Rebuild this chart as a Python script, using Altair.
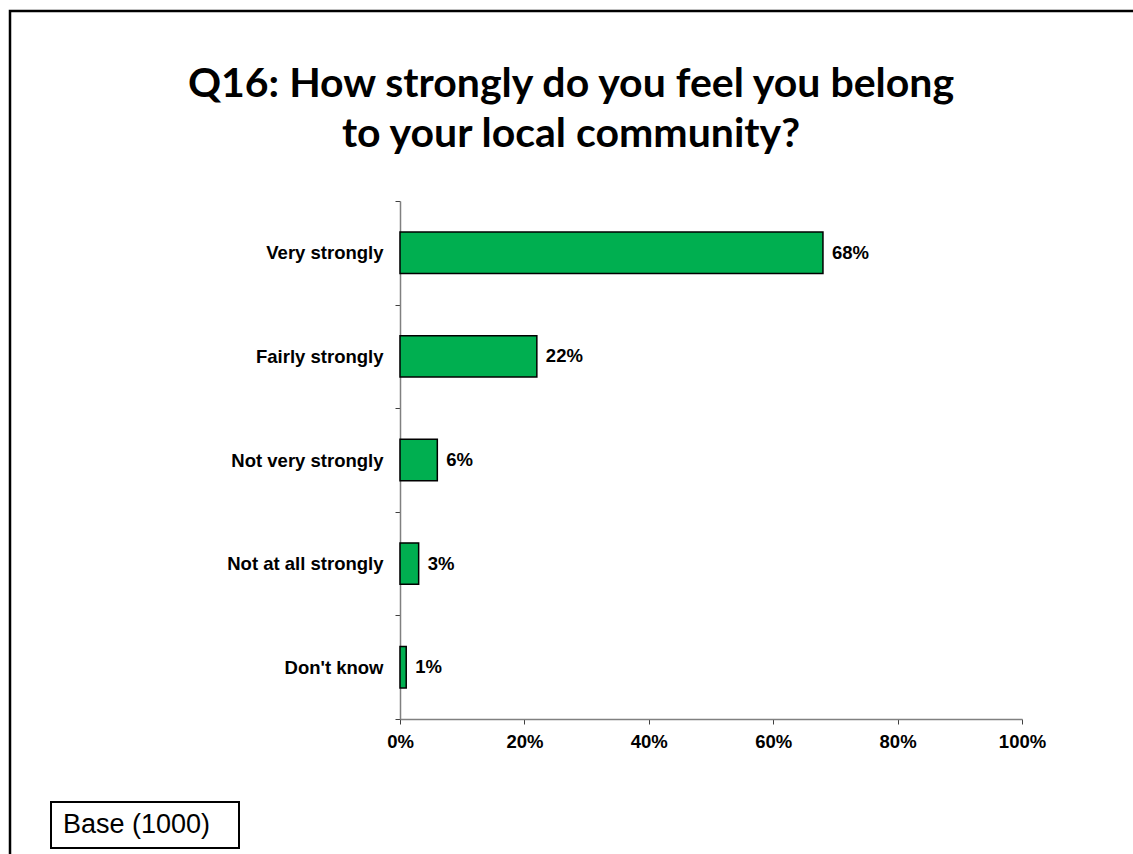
import altair as alt
import pandas as pd

categories = ["Very strongly", "Fairly strongly", "Not very strongly", "Not at all strongly", "Don't know"]
values = [68, 22, 6, 3, 1]
x_ticks = [0, 20, 40, 60, 80, 100]
title_lines = ["Q16: How strongly do you feel you belong", "to your local community?"]
base_note = "Base (1000)"

df = pd.DataFrame({"category": categories, "value": values})
df["label"] = [f"{v}%" for v in values]

W, H = 622, 518
PL, PT = 400, 201
PR, PB = 1133 - PL - W, 854 - PT - H

y_enc = alt.Y(
    "category:N",
    sort=categories,
    scale=alt.Scale(paddingInner=0, paddingOuter=0),
    axis=alt.Axis(
        title=None,
        tickBand="extent",
        tickSize=5,
        labelPadding=12,
        labelFont="Liberation Sans",
        labelFontWeight="bold",
        labelFontSize=18.5,
        labelColor="black",
        domainColor="#808080",
        tickColor="#404040",
        domainWidth=1.5,
    ),
)
x_enc = alt.X(
    "value:Q",
    scale=alt.Scale(domain=[0, 100], nice=False),
    axis=alt.Axis(
        title=None,
        values=x_ticks,
        labelExpr="datum.value + '%'",
        labelFlush=False,
        tickSize=5,
        labelPadding=8,
        labelFont="Liberation Sans",
        labelFontWeight="bold",
        labelFontSize=18.5,
        labelColor="black",
        domainColor="#808080",
        tickColor="#404040",
        domainWidth=1.5,
        grid=False,
    ),
)

bars = alt.Chart(df).mark_bar(
    color="#00AF50", stroke="black", strokeWidth=1.5, height=alt.RelativeBandSize(0.4)
).encode(x=x_enc, y=y_enc)
labels = alt.Chart(df).mark_text(
    align="left", baseline="middle", dx=9, font="Liberation Sans", fontWeight="bold", fontSize=18.5, color="black"
).encode(x="value:Q", y=alt.Y("category:N", sort=categories), text="label:N")

one = alt.Data(values=[{"a": 1}])
frame = alt.Chart(one).mark_rect(fill=None, stroke="black", strokeWidth=2.5).encode(
    x=alt.value(10 - PL), x2=alt.value(1200 - PL), y=alt.value(11 - PT), y2=alt.value(900 - PT)
)
title = alt.Chart(one).mark_text(
    align="center", baseline="alphabetic", font="Lato", fontSize=41, fontWeight="bold",
    color="black", lineHeight=50,
).encode(x=alt.value(571 - PL), y=alt.value(97 - PT), text=alt.value(title_lines))
base_box = alt.Chart(one).mark_rect(fill="white", stroke="black", strokeWidth=2).encode(
    x=alt.value(51 - PL), x2=alt.value(239 - PL), y=alt.value(802 - PT), y2=alt.value(848 - PT)
)
base_text = alt.Chart(one).mark_text(
    align="left", baseline="middle", font="Liberation Sans", fontSize=27, color="black"
).encode(x=alt.value(63 - PL), y=alt.value(825 - PT), text=alt.value(base_note))

chart = alt.layer(frame, title, bars, labels, base_box, base_text).properties(
    width=W,
    height=H,
    padding={"left": PL, "top": PT, "right": PR, "bottom": PB},
    autosize=alt.AutoSizeParams(type="none"),
).configure(background="white").configure_view(stroke=None)

chart.save("out.html", embed_options={"renderer": "svg", "actions": False})
